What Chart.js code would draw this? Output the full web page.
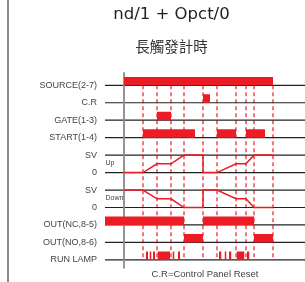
<!DOCTYPE html>
<html><head><meta charset="utf-8">
<script src="https://cdn.jsdelivr.net/npm/chart.js@4/dist/chart.umd.min.js"></script>
<style>
html,body{margin:0;padding:0;background:#fff;}
#wrap{position:relative;width:305px;height:282px;overflow:hidden;}
#frame{position:absolute;left:7px;top:0;width:2px;height:282px;background:#8c8c8c;}
canvas{position:absolute;left:0;top:0;}
</style></head>
<body><div id="wrap"><div id="frame"></div><canvas id="c" width="305" height="282"></canvas></div>
<script>
// ---- data (time units along x; rows top to bottom) ----
const titleText = 'nd/1 + Opct/0';
const subtitleText = '長觸發計時';
const footText = 'C.R=Control Panel Reset';
const rowLabels = ['SOURCE(2-7)','C.R','GATE(1-3)','START(1-4)','SV','0','SV','0','OUT(NC,8-5)','OUT(NO,8-6)','RUN LAMP'];
const eventTimes = [19, 33, 47, 60, 79, 93, 112, 122, 130, 149];
const sourceOn = [[0,149]];
const crOn = [[79,86]];
const gateOn = [[33,47]];
const startOn = [[19,71],[93,112],[122,141]];
const outNC = [[-19,60],[79,130]];
const outNO = [[60,79],[130,149]];
const runLamp = [[22,24],[25.5,27.5],[29,31],[33.5,46],[48.5,50.5],[54,56],
                 [95,97.5],[100.5,102.5],[105,107.5],[112.5,120.5],[123,125.5]];
const svTimes = [0, 19, 33, 47, 60, 79, 79, 93, 112, 122, 130, 149];
const svUpLevels = [0, 0, 0.5, 0.5, 1, 1, 0, 0, 0.5, 0.5, 1, 1];
const svDownLevels = [1, 1, 0.5, 0.5, 0, 0, 1, 1, 0.5, 0.5, 0, 0];
const svNotes = [{text:'Up', row:4.5}, {text:'Down', row:6.5}];

// ---- build datasets ----
const RED = '#ed1c24';
const X_MIN = -19, X_MAX = 181, Y_MIN = -0.75, Y_MAX = 10.5;
const BAR_H = 0.48;
const datasets = [];
function lineDS(points, color, width, extra) {
  return Object.assign({type:'line', data: points, borderColor: color, borderWidth: width,
    pointRadius: 0, fill: false, tension: 0, clip: false}, extra || {});
}
// baselines
rowLabels.forEach((_, i) => {
  datasets.push(lineDS([{x:X_MIN,y:i},{x:X_MAX,y:i}], '#222', 1.2, {order: 5}));
});
// vertical time axis
datasets.push(lineDS([{x:0,y:Y_MIN},{x:0,y:Y_MAX}], '#8a8a8a', 1.8, {order: 4}));
// dashed event lines
eventTimes.forEach(t => {
  datasets.push(lineDS([{x:t,y:0},{x:t,y:10}], RED, 1.2, {borderDash:[4,3], order: 6}));
});
// bars
function addBars(segs, row) {
  segs.forEach(([a,b]) => {
    datasets.push(lineDS([{x:a,y:row},{x:a,y:row-BAR_H},{x:b,y:row-BAR_H},{x:b,y:row}],
      'rgba(0,0,0,0)', 0, {fill:{value: row}, backgroundColor: RED, order: 1}));
  });
}
addBars(sourceOn, 0);
addBars(crOn, 1);
addBars(gateOn, 2);
addBars(startOn, 3);
addBars(outNC, 8);
addBars(outNO, 9);
addBars(runLamp, 10);
// SV traces
datasets.push(lineDS(svTimes.map((t,i)=>({x:t, y:5 - svUpLevels[i]})), RED, 1.5, {order: 2}));
datasets.push(lineDS(svTimes.map((t,i)=>({x:t, y:7 - svDownLevels[i]})), RED, 1.5, {order: 2}));

const notesPlugin = {
  id: 'svNotes',
  afterDatasetsDraw(chart) {
    const {ctx, scales:{x, y}} = chart;
    ctx.save();
    ctx.font = '7px "Liberation Sans", Arial, sans-serif';
    ctx.fillStyle = '#444';
    ctx.textAlign = 'left';
    ctx.textBaseline = 'middle';
    svNotes.forEach(n => ctx.fillText(n.text, x.getPixelForValue(X_MIN) + 0.5, y.getPixelForValue(n.row) - 1));
    ctx.restore();
  }
};

new Chart(document.getElementById('c'), {
  type: 'line',
  data: { datasets },
  options: {
    responsive: false,
    animation: false,
    devicePixelRatio: 1,
    layout: { padding: { left: 38, right: 0, top: 0, bottom: 0 } },
    plugins: {
      legend: { display: false },
      tooltip: { enabled: false },
      title: { display: true, text: titleText, color: '#222',
        font: { family: '"DejaVu Sans", sans-serif', size: 16.5, weight: 'normal' },
        padding: { top: 5, bottom: 13 } },
      subtitle: { display: true, text: subtitleText, color: '#333',
        font: { family: '"Noto Sans CJK TC", sans-serif', size: 14.5, weight: 'normal' },
        padding: { top: 0, bottom: 17 } }
    },
    scales: {
      x: { type: 'linear', min: X_MIN, max: X_MAX,
        grid: { display: false, drawTicks: false }, border: { display: false },
        ticks: { display: false },
        title: { display: true, text: footText, color: '#444',
          font: { family: '"Liberation Sans", Arial, sans-serif', size: 9.5 },
          padding: { top: 0, bottom: 2 } } },
      y: { type: 'linear', reverse: true, min: Y_MIN, max: Y_MAX,
        grid: { display: false, drawTicks: false }, border: { display: false },
        afterBuildTicks: (s) => { s.ticks = rowLabels.map((_, i) => ({ value: i })); },
        afterFit: (s) => { s.width = 67; },
        ticks: { autoSkip: false, padding: 8, color: '#444',
          font: { family: '"Liberation Sans", Arial, sans-serif', size: 9 },
          callback: (v, i) => rowLabels[i] } }
    }
  },
  plugins: [notesPlugin]
});
</script>
</body></html>
